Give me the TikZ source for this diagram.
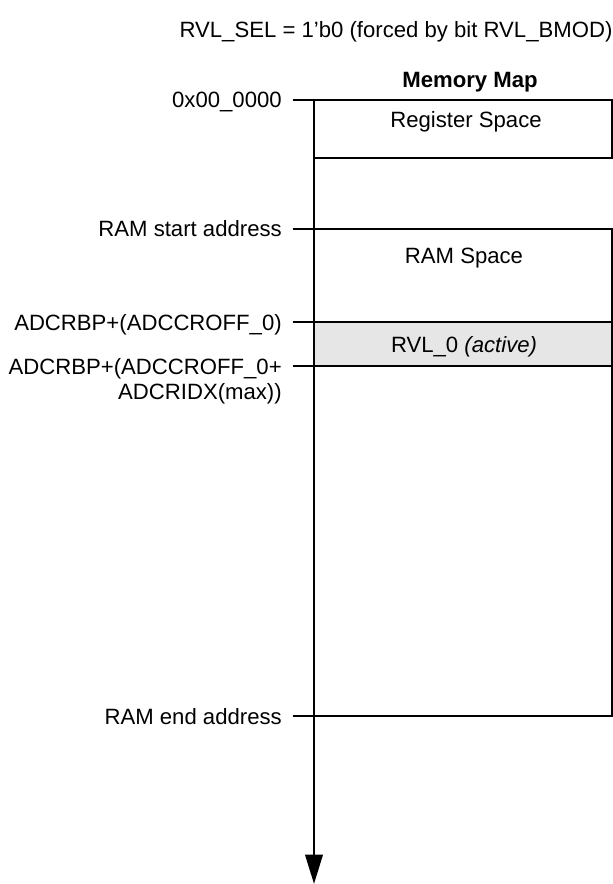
\documentclass[tikz,border=0pt]{standalone}
\usepackage{fontspec}
\setmainfont{Liberation Sans}
\usetikzlibrary{arrows.meta, positioning}
\definecolor{rvlgray}{RGB}{230, 230, 230}

\begin{document}
\begin{tikzpicture}[x=0.75pt, y=-0.75pt, font=\fontsize{16.6}{19}\selectfont,
  addr/.style={anchor=base east, inner sep=0pt},
  txt/.style={anchor=base, inner sep=0pt},
  region/.style={draw=black, line width=1.5pt},
  tick/.style={line width=1.5pt},
  axis/.style={line width=2.1pt, -{Triangle[length=22pt, width=13pt]}}]
  \useasboundingbox (0,0) rectangle (613,884);

  % Headings
  \node[txt] (title) at (396,38) {RVL\_SEL = 1’b0 (forced by bit RVL\_BMOD)};
  \node[txt, font=\fontsize{16.6}{19}\selectfont\bfseries] (mmap) at (470,88) {Memory Map};

  % Regions
  \fill[rvlgray] (314,322) rectangle (612,366);
  \draw[region] (314,100) rectangle (612,158);
  \draw[region] (314,229) -- (612,229) -- (612,716) -- (314,716);
  \draw[region] (314,322) -- (612,322);
  \draw[region] (314,366) -- (612,366);
  \node[txt] (regsp) at (466,128) {Register Space};
  \node[txt] (ramsp) at (464,263) {RAM Space};
  \node[txt] (rvl) at (464,352) {RVL\_0 \textit{(active)}};

  % Address axis
  \coordinate (top) at (314,99);
  \coordinate (bot) at (314,884);
  \draw[axis] (top) -- (bot);

  % Address labels and ticks
  \node[addr] (a0) at (282,108) {0x00\_0000};
  \node[addr] (a1) at (282,237) {RAM start address};
  \node[addr] (a2) at (282,330) {ADCRBP+(ADCCROFF\_0)};
  \node[addr] (a3) at (282,374) {ADCRBP+(ADCCROFF\_0+};
  \node[addr] (a3b) at (282,399) {ADCRIDX(max))};
  \node[addr] (a4) at (282,724) {RAM end address};
  \foreach \n/\y in {a0/100, a1/229, a2/322, a3/366} {
    \coordinate (t\n) at (335,\y);
    \draw[tick] ([xshift=8pt]\n.base east) ++(0,-8) -- (t\n);
  }
  \coordinate (ta4) at (314,716);
  \draw[tick] ([xshift=8pt]a4.base east) ++(0,-8) -- (ta4);
\end{tikzpicture}
\end{document}
